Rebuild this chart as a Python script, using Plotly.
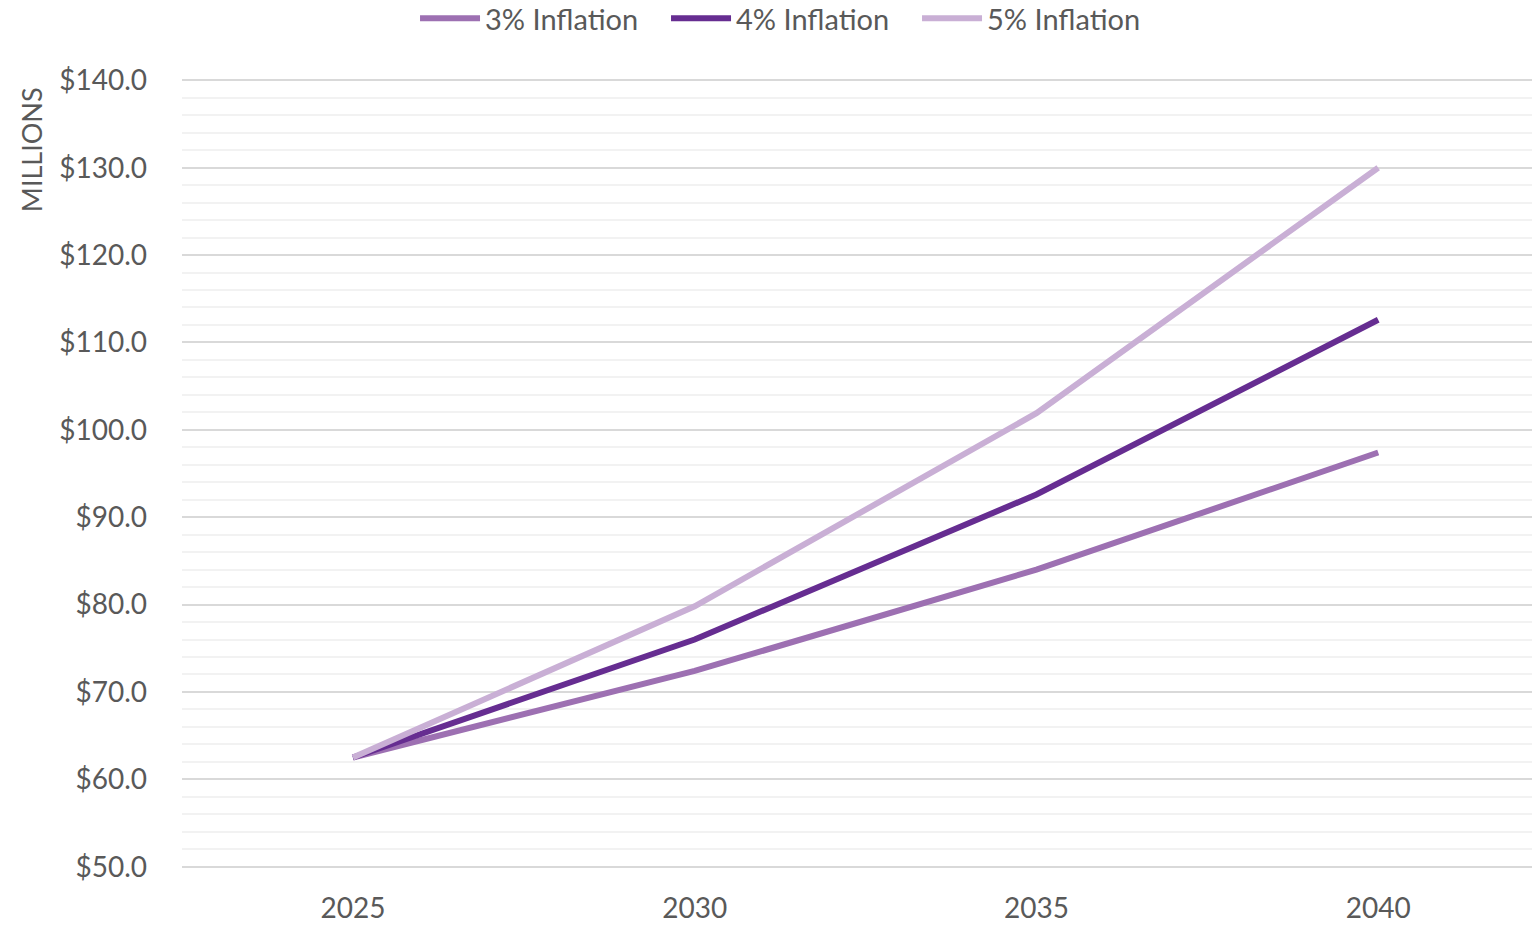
import plotly.graph_objects as go

years = ["2025", "2030", "2035", "2040"]
infl_3 = [62.5, 72.4, 84.0, 97.4]
infl_4 = [62.5, 76.0, 92.6, 112.6]
infl_5 = [62.5, 79.8, 101.9, 130.0]
series_names = ["3% Inflation", "4% Inflation", "5% Inflation"]
colors = ["#9D70B2", "#662D91", "#C9AFD5"]
y_ticks = [50, 60, 70, 80, 90, 100, 110, 120, 130, 140]
y_tick_text = ["$%.1f" % v for v in y_ticks]

fig = go.Figure()
for name, vals, col in zip(series_names, [infl_3, infl_4, infl_5], colors):
    fig.add_trace(go.Scatter(x=years, y=vals, mode="lines", name=name,
                             line=dict(color=col, width=6)))

font_family = "Lato, 'Open Sans', sans-serif"
fig.update_layout(
    width=1532, height=925,
    margin=dict(l=182, r=0, t=79, b=57),
    paper_bgcolor="white", plot_bgcolor="white",
    font=dict(family=font_family, size=28, color="#595959"),
    legend=dict(orientation="h", x=0.4515, xanchor="center", y=0.9525, yref="container",
                yanchor="bottom", font=dict(size=29, color="#595959"),
                traceorder="normal", itemwidth=60, entrywidth=176, entrywidthmode="pixels"),
    showlegend=True,
)
fig.update_xaxes(type="category", range=[-0.5, 3.45], showgrid=False, showline=False,
                 zeroline=False, ticks="", tickfont=dict(size=28, color="#595959"),
                 ticklabelstandoff=21, automargin=False)
fig.update_yaxes(range=[49.85, 140.15], tickvals=y_ticks, ticktext=y_tick_text,
                 showgrid=True, gridcolor="#D9D9D9", gridwidth=1.5,
                 minor=dict(dtick=2, showgrid=True, gridcolor="#F2F2F2", gridwidth=1.5),
                 zeroline=False, showline=False, ticks="",
                 tickfont=dict(size=28, color="#595959"), ticklabelstandoff=34,
                 automargin=False)
fig.add_annotation(text="MILLIONS", textangle=-90, xref="paper", yref="paper",
                   x=(31 - 182) / 1350, y=(867 - 151) / 787, xanchor="center", yanchor="middle",
                   showarrow=False, font=dict(size=27, color="#595959", family=font_family))

fig.write_html("out.html")
